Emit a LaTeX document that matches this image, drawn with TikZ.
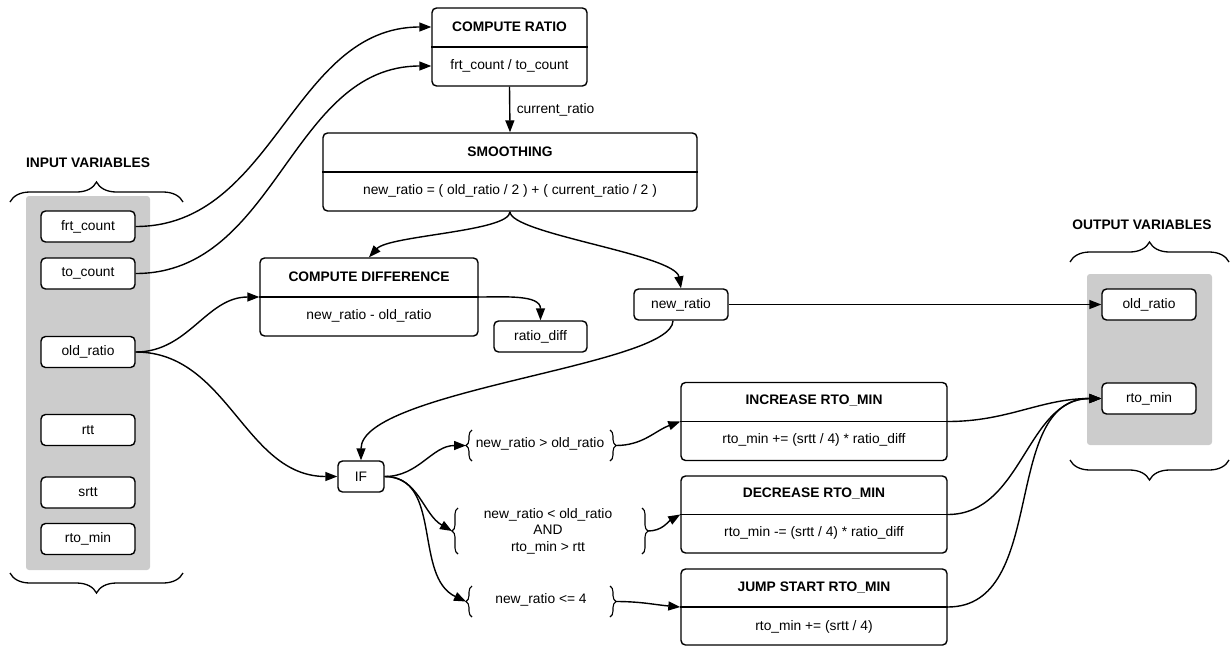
\documentclass[tikz,border=0pt]{standalone}
\usepackage{fontspec}
\setmainfont{Liberation Sans}
\usetikzlibrary{arrows.meta,decorations.pathreplacing,calc}
\definecolor{panel}{RGB}{204,204,204}
\begin{document}
\begin{tikzpicture}[x=1pt,y=-1pt,
  every node/.style={font=\fontsize{13.8}{16.5}\selectfont, text=black},
  line/.style={line width=1.4pt},
  conn/.style={line width=1.4pt, -{Triangle[length=12pt,width=9pt]}},
  box/.style={draw, line width=1.4pt, rounded corners=4.5pt, fill=white, inner sep=0pt},
  var/.style={box, minimum width=94pt, minimum height=31pt},
  bigbox/.style={box, minimum height=78pt},
  title/.style={font=\fontsize{13.8}{16.5}\selectfont\bfseries},
  panelbg/.style={fill=panel, rounded corners=3pt},
  bigbrace/.style={decorate, decoration={brace, amplitude=20pt}, line width=1.3pt},
  smallbrace/.style={decorate, decoration={brace, amplitude=6pt}, line width=1.1pt},
]
\useasboundingbox (0,0) rectangle (1231,646);

% panels
\fill[panelbg] (26,196) rectangle (150,570);
\fill[panelbg] (1087,274) rectangle (1212,445);

% panel labels and braces
\node[title] (inlbl) at (88,163) {INPUT VARIABLES};
\node[title] (outlbl) at (1142,225) {OUTPUT VARIABLES};
\draw[bigbrace] (10,202) -- (183,202);
\draw[bigbrace] (183,573) -- (10,573);
\draw[bigbrace] (1070,262) -- (1229,262);
\draw[bigbrace] (1229,460) -- (1070,460);

% input variables
\node[var] (frt) at (88,226.5) {frt\_count};
\node[var] (to) at (88,273.5) {to\_count};
\node[var] (old) at (88,352) {old\_ratio};
\node[var] (rtt) at (88,430) {rtt};
\node[var] (srtt) at (88,492.5) {srtt};
\node[var] (rmin) at (88,539) {rto\_min};

% output variables
\node[var] (oold) at (1149,304.5) {old\_ratio};
\node[var] (ormin) at (1149,398.5) {rto\_min};

% compute ratio
\node[bigbox, minimum width=155pt] (cr) at (509.5,47) {};
\draw[line] (cr.west) -- (cr.east);
\node[title] (crt) at (509.5,27) {COMPUTE RATIO};
\node (crb) at (509.5,66) {frt\_count / to\_count};

% smoothing
\node[bigbox, minimum width=374pt] (sm) at (510,172) {};
\draw[line] (sm.west) -- (sm.east);
\node[title] (smt) at (510,152) {SMOOTHING};
\node (smb) at (510,191) {new\_ratio = ( old\_ratio / 2 ) + ( current\_ratio / 2 )};

% compute difference
\node[bigbox, minimum width=218pt] (cd) at (369,297) {};
\draw[line] (cd.west) -- (cd.east);
\node[title] (cdt) at (369,277) {COMPUTE DIFFERENCE};
\node (cdb) at (369,316) {new\_ratio - old\_ratio};

\node[var, minimum width=93pt] (rd) at (540.5,336.5) {ratio\_diff};
\node[var] (nr) at (681,304.5) {new\_ratio};
\node[var, minimum width=46pt] (if) at (361,476.5) {IF};

% increase / decrease / jump start
\node[bigbox, minimum width=266pt] (inc) at (814,421.5) {};
\draw[line] (inc.west) -- (inc.east);
\node[title] (inct) at (814,401) {INCREASE RTO\_MIN};
\node (incb) at (814,440) {rto\_min += (srtt / 4) * ratio\_diff};

\node[bigbox, minimum width=266pt, minimum height=77pt] (dec) at (814,514.5) {};
\draw[line] (dec.west) -- (dec.east);
\node[title] (dect) at (814,494) {DECREASE RTO\_MIN};
\node (decb) at (814,533) {rto\_min -= (srtt / 4) * ratio\_diff};

\node[bigbox, minimum width=266pt, minimum height=76pt] (js) at (814,607) {};
\draw[line] (js.west) -- (js.east);
\node[title] (jst) at (814,588) {JUMP START RTO\_MIN};
\node (jsb) at (814,627) {rto\_min += (srtt / 4)};

% conditions
\node (c1) at (540,444) {new\_ratio > old\_ratio};
\node[align=center] (c2) at (548,531) {new\_ratio < old\_ratio\\AND\\rto\_min > rtt};
\node (c3) at (541,600) {new\_ratio <= 4};

\draw[smallbrace] (472,461) -- (472,430);
\draw[smallbrace] (610,430) -- (610,461);
\draw[smallbrace] (458,554) -- (458,508);
\draw[smallbrace] (642,508) -- (642,554);
\draw[smallbrace] (472,617) -- (472,586);
\draw[smallbrace] (610,586) -- (610,617);
\coordinate (c1l) at (466,445.5);
\coordinate (c1r) at (616,445.5);
\coordinate (c2l) at (452,531);
\coordinate (c2r) at (648,531);
\coordinate (c3l) at (466,601.5);
\coordinate (c3r) at (616,601.5);

% connectors
\draw[conn] (frt.east) to[out=0,in=180] (cr.west |- crt);
\draw[conn] (to.east) to[out=0,in=180] (cr.west |- crb);
\draw[conn] (cr.south) -- node[right, xshift=3pt] (crlbl) {current\_ratio} (sm.north);
\draw[conn] (sm.south) .. controls ($(sm.south)+(0,20)$) and ($(cd.north)+(20,-22)$) .. (cd.north);
\draw[conn] (sm.south) .. controls ($(sm.south)+(0,22)$) and ($(nr.north)+(-6,-34)$) .. (nr.north);
\draw[conn] (old.east) to[out=0,in=180] (cd.west);
\draw[conn] (old.east) to[out=0,in=180] (if.west);
\draw[conn] (cd.east) to[out=0,in=90] (rd.north);
\draw[conn] (nr.east) -- (oold.west);
\draw[conn] ([xshift=-8pt]nr.south) .. controls ($(nr.south)+(-8,45)$) and ($(if.north)+(0,-70)$) .. (if.north);
\draw[conn] (if.east) to[out=0,in=180] (c1l);
\draw[conn] (if.east) to[out=0,in=150] (c2l);
\draw[conn] (if.east) to[out=0,in=155] (c3l);
\draw[conn] (c1r) to[out=0,in=200] (inc.west);
\draw[conn] (c2r) to[out=0,in=210] (dec.west);
\draw[conn] (c3r) to[out=0,in=175] (js.west);
\draw[conn] (inc.east) to[out=0,in=180] (ormin.west);
\draw[conn] (dec.east) to[out=0,in=180] (ormin.west);
\draw[conn] (js.east) to[out=0,in=180] (ormin.west);
\end{tikzpicture}
\end{document}
